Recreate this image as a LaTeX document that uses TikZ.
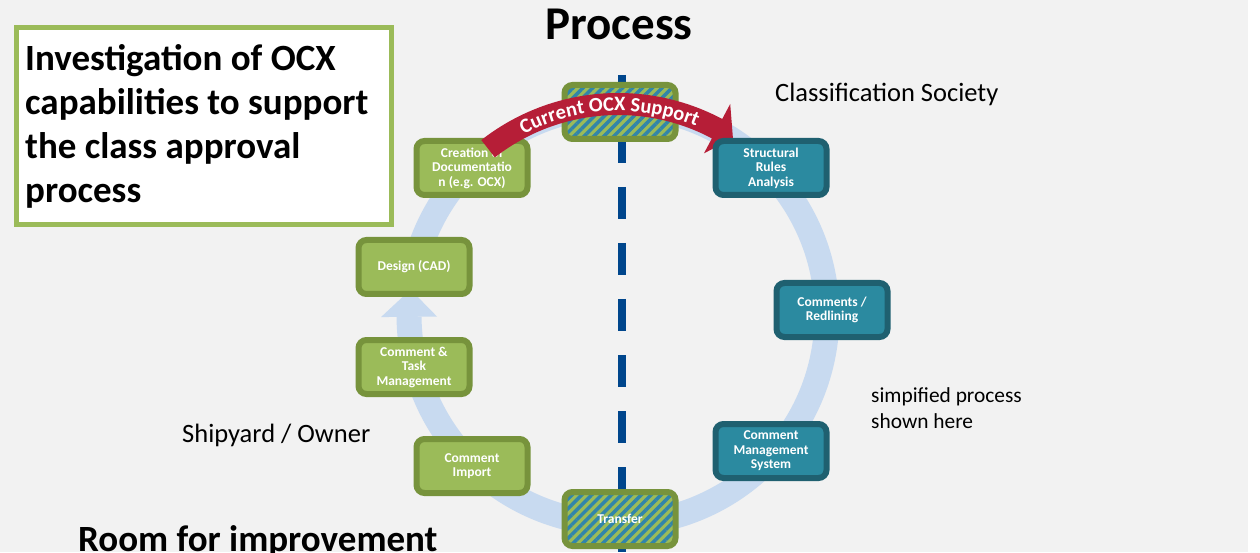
\documentclass[tikz,border=0pt]{standalone}
\usepackage{fontspec}
\setmainfont{Carlito}
\usetikzlibrary{patterns.meta,decorations.text,calc}
\definecolor{bg}{RGB}{242,242,242}
\definecolor{gfill}{RGB}{155,187,89}
\definecolor{gdraw}{RGB}{119,147,60}
\definecolor{tfill}{RGB}{43,138,160}
\definecolor{tdraw}{RGB}{31,96,112}
\definecolor{ringc}{RGB}{200,218,240}
\definecolor{redc}{RGB}{182,30,55}
\definecolor{dashc}{RGB}{0,70,140}
\definecolor{stripe}{RGB}{49,133,170}
\begin{document}
\begin{tikzpicture}[x=1pt,y=1pt,
  box/.style={rounded corners=8pt, line width=6pt, minimum width=111pt, minimum height=54pt,
    inner sep=0pt, align=center, text=white, font=\fontsize{13.5}{14.5}\selectfont\bfseries},
  gbox/.style={box, fill=gfill, draw=gdraw},
  tbox/.style={box, fill=tfill, draw=tdraw},
  hbox/.style={box, draw=gdraw, preaction={fill=gfill},
    pattern={Lines[angle=45,distance=7pt,line width=3.5pt]}, pattern color=stripe},
  plain/.style={inner sep=0pt, anchor=base west, font=\fontsize{26.5}{30}\selectfont},
  big/.style={inner sep=0pt, font=\fontsize{37}{44}\selectfont\bfseries},
]
\useasboundingbox (0,0) rectangle (1260,552);
\fill[white] (0,0) rectangle (1260,552);
\fill[bg] (0,0) rectangle (1248,552);
\coordinate (c) at (618,237);
% ring with arrowhead
\draw[ringc, line width=25pt] ($(c)+(172:209)$) arc[start angle=172, end angle=-179.5, radius=209];
\fill[ringc] ($(c)+(180.5:181)$) -- ($(c)+(180.5:237)$) -- ($(c)+(173:209)$) -- cycle;
% dashed divider
\coordinate (dtop) at (622,477);
\coordinate (dbot) at (622,0);
\draw[dashc, line width=8pt, dash pattern=on 32pt off 24pt] (dtop) -- (dbot);
% boxes
\node[hbox] (top) at (620,440) {};
\node[hbox] (transfer) at (620,33) {Transfer};
\node[gbox] (creation) at (472,384) {Creation of\\Documentatio\\n (e.g. OCX)};
\node[gbox] (design) at (414,285) {Design (CAD)};
\node[gbox] (task) at (414,185) {Comment \&\\Task\\Management};
\node[gbox] (import) at (472,86) {Comment\\Import};
% red arrow
\fill[redc] ($(c)+(128:222)$) arc[start angle=128, end angle=62, radius=222]
  -- ($(c)+(62:239)$) -- ($(c)+(57:211)$) -- ($(c)+(62:183)$) -- ($(c)+(62:200)$)
  arc[start angle=62, end angle=128, radius=200] -- cycle;
\path[decorate, decoration={text along path, text align=center,
  text={|\fontsize{20.5}{20}\selectfont\bfseries\color{white}|Current OCX Support}}]
  ($(c)+(128:204)$) arc[start angle=128, end angle=57, radius=204];
\node[tbox] (rules) at (771,384) {Structural\\Rules\\Analysis};
\node[tbox] (redline) at (832,242) {Comments /\\Redlining};
\node[tbox] (cms) at (771,101) {Comment\\Management\\System};
% texts
\node[inner sep=0pt, anchor=base, font=\fontsize{47}{50}\selectfont\bfseries] (title) at (619,512) {Process};
\node[draw=gfill, line width=5pt, fill=white, minimum width=375pt, minimum height=197pt, inner sep=0pt] (inv) at (204,426) {};
\node[big, anchor=base west, align=left] (invt) at (25,349) {Investigation of OCX\\capabilities to support\\the class approval\\process};
\node[plain] (cls) at (775,450) {Classification Society};
\node[plain] (ship) at (182,110) {Shipyard / Owner};
\node[plain, font=\fontsize{21.4}{25.5}\selectfont, align=left] (simp) at (871,124) {simpified process\\shown here};
\node[big, anchor=base west] (room) at (78,1) {Room for improvement};
\end{tikzpicture}
\end{document}
